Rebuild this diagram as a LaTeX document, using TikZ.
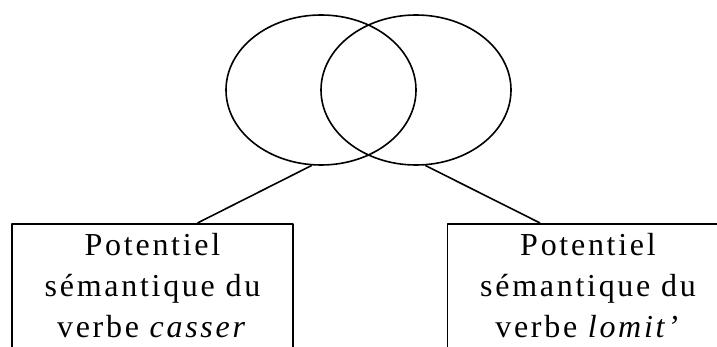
\documentclass[tikz,border=0pt]{standalone}
\usepackage{fontspec}
\setmainfont{Liberation Serif}
\newfontfamily\widefont[LetterSpace=8.5]{Liberation Serif}
\usetikzlibrary{shapes.geometric}

\begin{document}
\begin{tikzpicture}[
  x=1pt,
  y=-1pt,
  line join=round,
  set/.style={draw=black,line width=1.6pt,ellipse,minimum width=190pt,minimum height=150pt,inner sep=0pt},
  potbox/.style={draw=black,line width=1.6pt,anchor=north,text width=265pt,align=center,
    inner sep=8pt,font=\widefont\fontsize{32}{41}\selectfont,text height=24pt,text depth=140pt},
  link/.style={draw=black,line width=1.6pt}
]
  % Frame of the picture, cut at the page edges.
  \clip (0,0) rectangle (717,347);
  \fill[white] (0,0) rectangle (717,347);

  % The two overlapping sets.
  \node[set] (left) at (321,90) {};
  \node[set] (right) at (416,90) {};

  % The two semantic potentials.
  \node[potbox] (casser) at (152.5,223) {Potentiel\\sémantique du\\verbe \textit{casser}};
  \node[potbox] (lomit) at (588,223) {Potentiel\\sémantique du\\verbe \textit{lomit’}};

  % Each box hangs from its set.
  \draw[link] (left.-97) -- ([xshift=45pt]casser.north);
  \draw[link] (right.-83) -- ([xshift=-48pt]lomit.north);
\end{tikzpicture}
\end{document}
